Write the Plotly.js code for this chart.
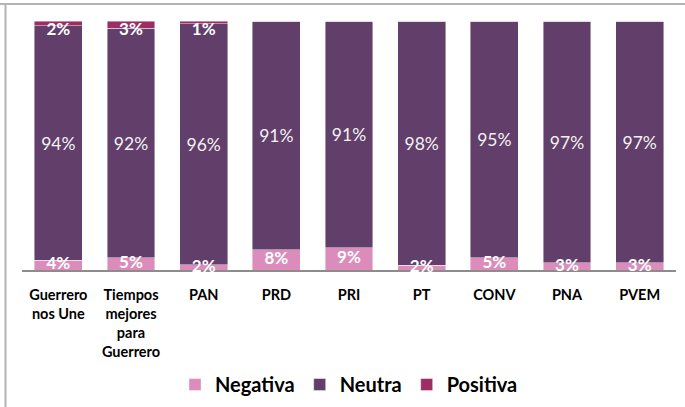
<!DOCTYPE html>
<html>
<head>
<meta charset="utf-8">
<script src="https://cdn.plot.ly/plotly-3.0.1.min.js"></script>
<style>
html,body{margin:0;padding:0;background:#fff;}
#chart{width:685px;height:407px;}
</style>
</head>
<body>
<div id="chart"></div>
<script>
const categories = ["Guerrero<br>nos Une", "Tiempos<br>mejores<br>para<br>Guerrero", "PAN", "PRD", "PRI", "PT", "CONV", "PNA", "PVEM"];
const negativa = [4, 5, 2, 8, 9, 2, 5, 3, 3];
const neutra = [94, 92, 96, 91, 91, 98, 95, 97, 97];
const positiva = [2, 3, 1, 0, 0, 0, 0, 0, 0];

const FONT = "Lato, sans-serif";
const COLORS = {neg: "#dc8cba", neu: "#623e6b", pos: "#9b2f63"};

function bar(name, vals, color) {
  return {
    type: "bar", name: name, x: categories, y: vals,
    marker: {color: color, line: {color: "rgba(255,255,255,0.55)", width: 0.8}},
    hoverinfo: "skip"
  };
}

// label positions derived from the data (percent-normalised stack)
const totals = negativa.map((v, i) => v + neutra[i] + positiva[i]);
const negMid = negativa.map((v, i) => 100 * (v / 2) / totals[i]);
const neuMid = neutra.map((v, i) => 100 * (negativa[i] + v / 2) / totals[i] - 1);
const posMid = positiva.map((v, i) => Math.min(100 * (negativa[i] + neutra[i] + v / 2) / totals[i], 96.2));

function labels(yv, vals, bold, color, size) {
  return {
    type: "scatter", mode: "text", x: categories, y: yv,
    text: vals.map(v => v > 0 ? v + "%" : ""),
    textposition: "middle center",
    textfont: {family: FONT, size: size, color: color, weight: bold ? "bold" : "normal"},
    showlegend: false, hoverinfo: "skip", cliponaxis: false
  };
}

const data = [
  bar("Negativa", negativa, COLORS.neg),
  bar("Neutra", neutra, COLORS.neu),
  bar("Positiva", positiva, COLORS.pos),
  labels(negMid, negativa, true, "#ffffff", 17),
  labels(neuMid, neutra, false, "#f2f2f2", 17.5),
  labels(posMid, positiva, true, "#ffffff", 17)
];

const layout = {
  width: 685, height: 407,
  margin: {l: 22, r: 9, t: 21, b: 137, autoexpand: false},
  barmode: "stack",
  barnorm: "percent",
  bargap: 0.34,
  paper_bgcolor: "#ffffff",
  plot_bgcolor: "#ffffff",
  showlegend: true,
  legend: {
    orientation: "h", x: 0.5, xanchor: "center", y: -0.46, yanchor: "middle",
    font: {family: FONT, size: 20, color: "#000", weight: "bold"},
    itemwidth: 30, traceorder: "normal"
  },
  xaxis: {
    type: "category",
    showgrid: false, zeroline: false,
    showline: true, linecolor: "#8c8c8c", linewidth: 2, layer: "below traces",
    ticks: "", tickangle: 0, ticklabelstandoff: 11,
    tickfont: {family: FONT, size: 14.5, color: "#000", weight: "bold"}
  },
  yaxis: {
    range: [0, 100], showgrid: false, zeroline: false, showline: false,
    showticklabels: false, ticks: "", fixedrange: true
  },
  shapes: [
    {type: "line", xref: "paper", yref: "paper", x0: -22/654, x1: 663/654, y0: (270-4)/249, y1: (270-4)/249, line: {color: "#b4b4b4", width: 2}},
    {type: "line", xref: "paper", yref: "paper", x0: -16.5/654, x1: -16.5/654, y0: (270-4)/249, y1: -140/249, line: {color: "#b4b4b4", width: 2}}
  ]
};

Plotly.newPlot("chart", data, layout, {displayModeBar: false, staticPlot: true});
</script>
</body>
</html>
